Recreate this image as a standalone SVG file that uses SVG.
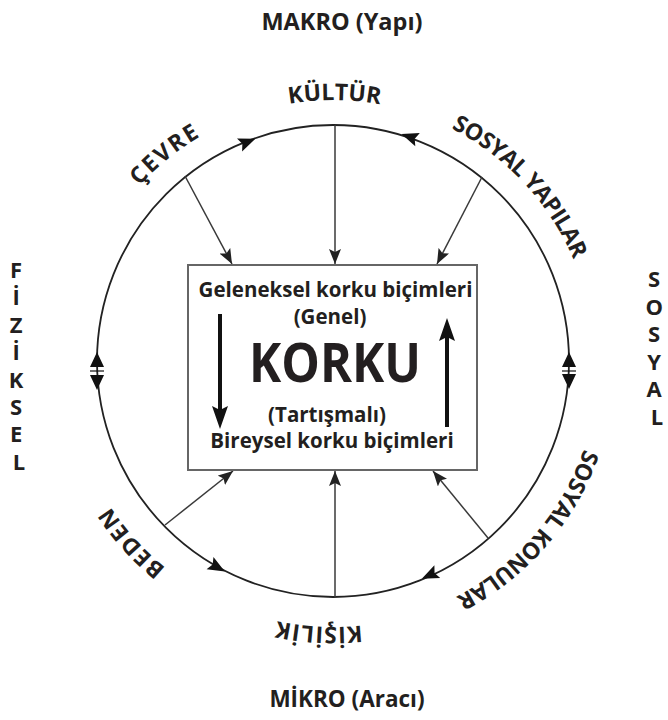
<svg xmlns="http://www.w3.org/2000/svg" width="668" height="720" viewBox="0 0 668 720">
<style>
  .t { font-family: "Open Sans", "Liberation Sans", sans-serif; font-weight: bold; fill: #231f20; }
  .lab { font-size: 23px; }
  .box { font-size: 20.5px; text-anchor: middle; }
  .side { font-size: 22px; text-anchor: middle; }
  .conn { stroke: #3a3a3a; stroke-width: 1.5; fill: none; marker-end: url(#arr); }
  .thick { stroke: #111; stroke-width: 4; fill: none; }
</style>
<defs>
  <marker id="arr" markerWidth="15" markerHeight="12" refX="15" refY="6" orient="auto" markerUnits="userSpaceOnUse">
    <path d="M0,0 L15,6 L0,12 L3,6 Z" fill="#222"/>
  </marker>
  <path id="ah" d="M9,0 L-8,-7 L-5,0 L-8,7 Z" fill="#111"/>
  <path id="tri" d="M8,0 L-7,-7 L-7,7 Z" fill="#111"/>
  <path id="topArc" d="M 72,361 A 261 261 0 0 1 594,361" fill="none"/>
  <path id="botArc" d="M 599,361 A 266 266 0 0 1 67,361" fill="none"/>
</defs>
<rect width="668" height="720" fill="#ffffff"/>

<g id="titles">
  <text class="t" x="342" y="30" font-size="23.5" text-anchor="middle">MAKRO (Yapı)</text>
  <text class="t" x="347" y="707" font-size="22.5" text-anchor="middle">MİKRO (Aracı)</text>
</g>

<g id="ring">
  <circle cx="333" cy="361" r="236" fill="none" stroke="#222" stroke-width="1.8"/>
  <use href="#ah" transform="translate(247,142) rotate(-21.4)"/>
  <use href="#ah" transform="translate(410,137) rotate(-161)"/>
  <use href="#ah" transform="translate(217,567) rotate(29.4)"/>
  <use href="#ah" transform="translate(430,575) rotate(155.6)"/>
  <use href="#tri" transform="translate(97,360) rotate(-90)"/>
  <use href="#tri" transform="translate(97,382) rotate(90)"/>
  <line x1="90" y1="371" x2="104" y2="371" stroke="#111" stroke-width="1.2"/>
  <use href="#tri" transform="translate(569,360) rotate(-90)"/>
  <use href="#tri" transform="translate(569,381) rotate(90)"/>
  <line x1="562" y1="371" x2="576" y2="371" stroke="#111" stroke-width="1.2"/>
</g>

<g id="connectors">
  <line class="conn" x1="185" y1="176" x2="232" y2="264"/>
  <line class="conn" x1="335" y1="125" x2="335" y2="264"/>
  <line class="conn" x1="482" y1="177" x2="437" y2="264"/>
  <line class="conn" x1="165" y1="525" x2="233" y2="471"/>
  <line class="conn" x1="335" y1="597" x2="335" y2="471"/>
  <line class="conn" x1="488" y1="538" x2="433" y2="471"/>
</g>

<g id="cevre"><text class="t lab" letter-spacing="2"><textPath href="#topArc" startOffset="28.3%" text-anchor="middle">ÇEVRE</textPath></text></g>
<g id="kultur"><text class="t lab" letter-spacing="0"><textPath href="#topArc" startOffset="50.2%" text-anchor="middle">KÜLTÜR</textPath></text></g>
<g id="sosyal-yapilar"><text class="t lab" letter-spacing="-0.5"><textPath href="#topArc" startOffset="76.1%" text-anchor="middle">SOSYAL YAPILAR</textPath></text></g>
<g id="sosyal-konular"><text class="t lab" letter-spacing="-0.5"><textPath href="#botArc" startOffset="22.7%" text-anchor="middle">SOSYAL KONULAR</textPath></text></g>
<g id="kisilik"><text class="t lab" letter-spacing="1"><textPath href="#botArc" startOffset="51.7%" text-anchor="middle">KİŞİLİK</textPath></text></g>
<g id="beden"><text class="t lab" letter-spacing="1.5"><textPath href="#botArc" startOffset="76.7%" text-anchor="middle">BEDEN</textPath></text></g>

<g id="fiziksel">
  <text class="t side">
    <tspan x="19" y="278">F</tspan>
    <tspan x="19" y="305.4">İ</tspan>
    <tspan x="19" y="332.8">Z</tspan>
    <tspan x="19" y="360.2">İ</tspan>
    <tspan x="19" y="387.6">K</tspan>
    <tspan x="19" y="415">S</tspan>
    <tspan x="19" y="442.4">E</tspan>
    <tspan x="19" y="469.8">L</tspan>
  </text>
</g>

<g id="sosyal">
  <text class="t side">
    <tspan x="657" y="287">S</tspan>
    <tspan x="657" y="314.6">O</tspan>
    <tspan x="657" y="342.2">S</tspan>
    <tspan x="657" y="369.8">Y</tspan>
    <tspan x="657" y="397.4">A</tspan>
    <tspan x="657" y="425">L</tspan>
  </text>
</g>

<g id="korku">
  <rect x="188" y="265" width="289" height="205" fill="#fff" stroke="#666" stroke-width="2"/>
  <text class="t box" x="335.5" y="297">Geleneksel korku biçimleri</text>
  <text class="t box" x="330" y="324">(Genel)</text>
  <text class="t" x="335" y="382" font-size="54" text-anchor="middle" textLength="172" lengthAdjust="spacingAndGlyphs">KORKU</text>
  <text class="t box" x="327" y="422">(Tartışmalı)</text>
  <text class="t box" x="332" y="448">Bireysel korku biçimleri</text>
  <line class="thick" x1="220" y1="314" x2="220" y2="412"/>
  <path d="M220,429 L212,406 L220,410 L228,406 Z" fill="#111"/>
  <line class="thick" x1="447" y1="336" x2="447" y2="427"/>
  <path d="M447,318 L439,341 L447,337 L455,341 Z" fill="#111"/>
</g>
</svg>
